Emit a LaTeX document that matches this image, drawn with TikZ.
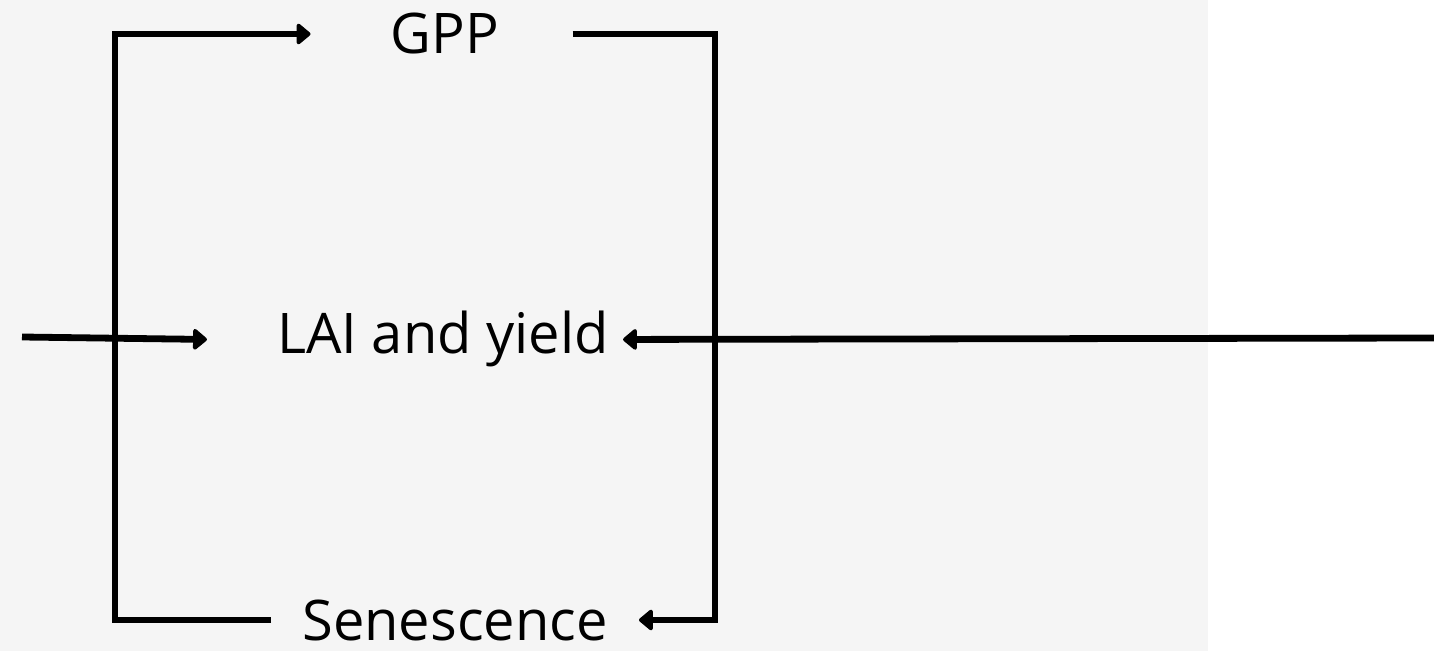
\documentclass[tikz,border=0pt]{standalone}
\usepackage{fontspec}
\setmainfont{Open Sans}
\usetikzlibrary{arrows.meta,positioning}
\definecolor{panelgray}{HTML}{F5F5F5}

\begin{document}
\begin{tikzpicture}[x=0.5pt,y=-0.5pt]
\tikzset{
  flow label/.style={font=\fontsize{28}{32}\selectfont,inner sep=0,anchor=base},
  flow line/.style={line width=3.4pt,line join=miter},
  flow arrow/.style={flow line,-{Triangle[round,length=7.5pt,width=12pt]}}
}
\useasboundingbox (0,0) rectangle (1434,651);
\fill[panelgray] (0,0) rectangle (1208,651);

\node[flow label] (GPP) at (445,54) {GPP};
\node[flow label] (LAI) at (443,354) {LAI and yield};
\node[flow label] (SEN) at (455,640) {Senescence};

\coordinate (cornerL) at (115,0);
\coordinate (cornerR) at (715,0);
\coordinate (in) at (22,337);
\coordinate (back) at (1434,338);

% outer loop
\draw[flow arrow] ([xshift=-15.5pt]SEN.west) -- (SEN.west -| cornerL) |- ([xshift=-40pt]GPP.west);
\draw[flow arrow] ([xshift=36.5pt]GPP.east) -- (GPP.east -| cornerR) |- ([xshift=15.5pt]SEN.east);

% middle
\draw[flow arrow] (in) -- ([xshift=-35pt]LAI.west);
\draw[flow arrow] (back) -- ([xshift=7pt]LAI.east);
\end{tikzpicture}
\end{document}
